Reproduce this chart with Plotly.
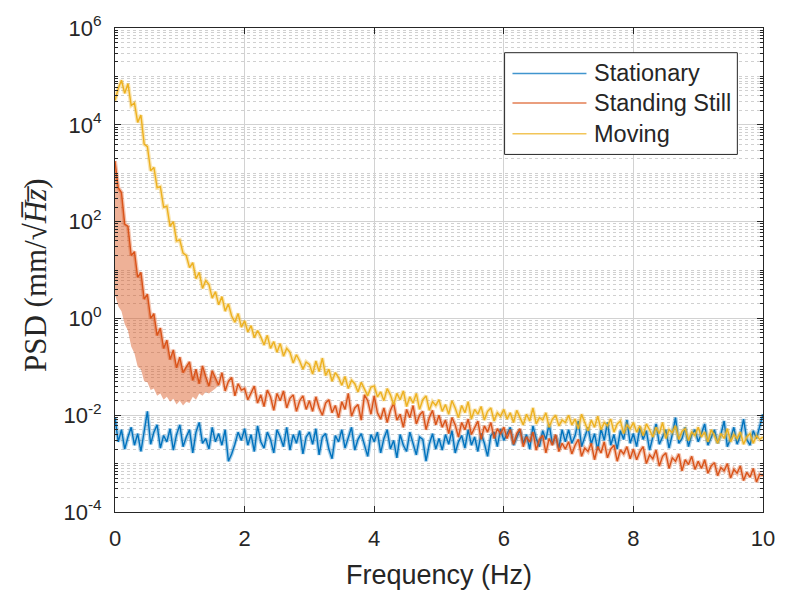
import numpy as np
import plotly.graph_objects as go

# Frequency grid (Hz)
freq_hz = np.round(np.arange(201) * 0.05, 2)

# PSD values, stored as log10(mm/sqrt(Hz))
stationary_log10 = [
    -2.05, -2.55, -2.30, -2.70, -2.45, -2.25, -2.62, -2.38, -2.75, -2.30, -1.92, -2.60, -2.35, -2.20, -2.68, -2.42, -2.55, -2.28, -2.72, -2.40,
    -2.20, -2.65, -2.45, -2.30, -2.78, -2.35, -2.15, -2.58, -2.48, -2.70, -2.25, -2.55, -2.38, -2.62, -2.30, -2.95, -2.80, -2.60, -2.35, -2.52,
    -2.28, -2.62, -2.40, -2.75, -2.22, -2.55, -2.68, -2.35, -2.50, -2.78, -2.30, -2.45, -2.65, -2.25, -2.72, -2.40, -2.58, -2.32, -2.80, -2.45,
    -2.35, -2.60, -2.28, -2.82, -2.45, -2.38, -2.70, -2.90, -2.42, -2.55, -2.30, -2.68, -2.48, -2.25, -2.72, -2.50, -2.38, -2.62, -2.85, -2.40,
    -2.55, -2.35, -2.78, -2.48, -2.30, -2.70, -2.52, -2.88, -2.40, -2.62, -2.75, -2.35, -2.58, -2.82, -2.45, -2.50, -2.95, -2.60, -2.38, -2.70,
    -2.48, -2.72, -2.40, -2.60, -2.32, -2.78, -2.55, -2.42, -2.68, -2.30, -2.62, -2.45, -2.75, -2.38, -2.58, -2.85, -2.42, -2.35, -2.65, -2.28,
    -2.52, -2.38, -2.25, -2.62, -2.45, -2.30, -2.58, -2.40, -2.70, -2.22, -2.48, -2.65, -2.32, -2.50, -2.18, -2.60, -2.42, -2.68, -2.30, -2.55,
    -2.30, -2.58, -2.42, -2.12, -2.65, -2.45, -2.25, -2.60, -2.38, -2.72, -2.28, -2.52, -2.15, -2.62, -2.40, -2.70, -2.32, -2.50, -2.10, -2.58,
    -2.38, -2.65, -2.25, -2.50, -2.32, -2.72, -2.42, -2.18, -2.60, -2.45, -2.30, -2.68, -2.40, -2.05, -2.58, -2.48, -2.25, -2.65, -2.40, -2.30,
    -2.55, -2.38, -2.18, -2.62, -2.45, -2.30, -2.58, -2.40, -2.12, -2.65, -2.48, -2.25, -2.60, -2.42, -2.08, -2.50, -2.62, -2.32, -2.48, -2.20,
    -1.98,
]

standing_log10 = [
    3.25, 2.70, 2.60, 1.95, 1.90, 1.30, 1.38, 0.85, 0.95, 0.40, 0.50, 0.00, 0.10, -0.35, -0.20, -0.62, -0.45, -0.85, -0.65, -1.02,
    -0.80, -1.12, -1.00, -0.90, -1.28, -1.05, -1.35, -0.98, -1.20, -1.40, -1.08, -1.25, -1.38, -1.12, -1.50, -1.30, -1.22, -1.60, -1.35, -1.48,
    -1.45, -1.68, -1.52, -1.40, -1.75, -1.58, -1.82, -1.48, -1.62, -1.90, -1.55, -1.70, -1.50, -1.85, -1.65, -1.58, -1.92, -1.70, -1.60, -1.88,
    -1.70, -1.92, -1.62, -1.85, -2.00, -1.75, -1.68, -1.95, -1.80, -2.05, -1.72, -1.88, -1.55, -2.02, -1.85, -1.78, -2.10, -1.58, -1.70, -1.98,
    -1.60, -1.95, -2.08, -1.85, -2.15, -1.90, -1.75, -2.10, -1.98, -2.25, -1.88, -2.05, -1.80, -2.18, -2.00, -1.92, -2.30, -2.05, -1.90, -2.20,
    -2.00, -2.25, -2.10, -2.38, -2.05, -2.20, -2.45, -2.15, -2.30, -2.08, -2.40, -2.25, -2.12, -2.50, -2.22, -2.35, -2.15, -2.48, -2.28, -2.38,
    -2.25, -2.48, -2.30, -2.60, -2.38, -2.28, -2.65, -2.45, -2.55, -2.35, -2.72, -2.50, -2.42, -2.78, -2.48, -2.62, -2.40, -2.75, -2.58, -2.70,
    -2.55, -2.80, -2.62, -2.50, -2.85, -2.68, -2.75, -2.58, -2.92, -2.65, -2.78, -2.55, -2.88, -2.70, -2.62, -2.95, -2.72, -2.80, -2.65, -2.90,
    -2.70, -2.92, -2.75, -2.65, -3.00, -2.82, -2.90, -2.72, -3.05, -2.85, -2.78, -3.10, -2.88, -2.95, -2.80, -3.15, -2.92, -3.02, -2.85, -3.12,
    -2.95, -3.10, -2.92, -3.20, -3.05, -2.98, -3.25, -3.08, -3.15, -3.00, -3.30, -3.12, -3.20, -3.05, -3.35, -3.18, -3.28, -3.10, -3.38, -3.22,
    -3.25,
]

moving_log10 = [
    4.50, 4.75, 4.92, 4.65, 4.85, 4.40, 4.45, 4.05, 4.20, 3.60, 3.55, 3.05, 3.12, 2.70, 2.72, 2.30, 2.32, 1.90, 2.00, 1.60,
    1.62, 1.35, 1.30, 1.05, 1.15, 0.82, 0.95, 0.62, 0.78, 0.70, 0.42, 0.55, 0.28, 0.45, 0.15, 0.30, 0.05, -0.08, 0.10, -0.18,
    -0.05, -0.28, -0.15, -0.40, -0.25, -0.38, -0.55, -0.35, -0.62, -0.48, -0.70, -0.52, -0.78, -0.62, -0.70, -0.92, -0.75, -0.88, -1.05, -0.90,
    -0.95, -1.15, -0.88, -1.10, -0.82, -1.18, -1.05, -1.30, -1.12, -1.22, -1.38, -1.20, -1.45, -1.28, -1.35, -1.52, -1.32, -1.48, -1.60, -1.42,
    -1.40, -1.62, -1.52, -1.70, -1.45, -1.58, -1.78, -1.55, -1.68, -1.50, -1.82, -1.62, -1.75, -1.55, -1.88, -1.68, -1.60, -1.90, -1.72, -1.80,
    -1.68, -1.92, -1.78, -1.98, -1.70, -1.85, -2.05, -1.80, -1.95, -1.72, -2.08, -1.88, -1.98, -1.82, -2.10, -1.92, -1.85, -2.12, -1.95, -2.02,
    -1.88, -2.08, -1.95, -2.15, -1.90, -2.05, -2.20, -1.98, -2.12, -1.85, -2.18, -2.05, -2.10, -1.95, -2.25, -2.08, -2.00, -2.22, -2.10, -2.15,
    -2.00, -2.20, -2.08, -2.28, -1.98, -2.15, -2.32, -2.10, -2.25, -2.02, -2.30, -2.15, -2.22, -2.08, -2.35, -2.18, -2.12, -2.38, -2.20, -2.28,
    -2.15, -2.35, -2.22, -2.42, -2.18, -2.30, -2.45, -2.25, -2.38, -2.15, -2.48, -2.30, -2.36, -2.22, -2.50, -2.33, -2.28, -2.52, -2.35, -2.42,
    -2.25, -2.45, -2.35, -2.55, -2.30, -2.42, -2.58, -2.38, -2.48, -2.28, -2.55, -2.40, -2.48, -2.35, -2.60, -2.45, -2.38, -2.58, -2.42, -2.50,
    -2.45,
]

# Lower edge of the Standing Still spread over 0-1.6 Hz (log10)
standing_lower_log10 = [
    0.50, 0.25, 0.15, -0.12, -0.25, -0.58, -0.72, -1.00, -1.05, -1.30, -1.32, -1.48, -1.45, -1.60, -1.55, -1.68,
    -1.62, -1.72, -1.66, -1.78, -1.70, -1.80, -1.72, -1.75, -1.62, -1.68, -1.55, -1.60, -1.52, -1.55, -1.50, -1.45,
    -1.38,
]

series_names = ["Stationary", "Standing Still", "Moving"]
series_colors = ["#0072BD", "#D95319", "#EDB120"]
series_log10 = [stationary_log10, standing_log10, moving_log10]

y_tick_exponents = [-4, -2, 0, 2, 4, 6]
x_tick_values = [0, 2, 4, 6, 8, 10]

W, H = 787, 592
L, R, T, B = 115, 772, 22, 512


def px_x(p):
    return (p - L) / (R - L)


def px_y(p):
    return (B - p) / (B - T)


def rgba(hex_color, a):
    h = hex_color.lstrip("#")
    return "rgba(%d,%d,%d,%.2f)" % (int(h[0:2], 16), int(h[2:4], 16), int(h[4:6], 16), a)


fig = go.Figure()

# shaded spread below the Standing Still mean at low frequency
n_low = len(standing_lower_log10)
x_low = freq_hz[:n_low]
upper = 10 ** np.array(standing_log10[:n_low])
lower = 10 ** np.array(standing_lower_log10)
fig.add_trace(go.Scatter(
    x=np.concatenate([x_low, x_low[::-1]]),
    y=np.concatenate([upper, lower[::-1]]),
    fill="toself", fillcolor=rgba(series_colors[1], 0.45),
    line=dict(width=0), mode="lines", hoverinfo="skip", showlegend=False,
))

for name, color, vals in zip(series_names, series_colors, series_log10):
    psd = 10 ** np.array(vals)
    # soft envelope around each trace
    fig.add_trace(go.Scatter(
        x=freq_hz, y=psd, mode="lines",
        line=dict(color=rgba(color, 0.35), width=4),
        hoverinfo="skip", showlegend=False,
    ))
    fig.add_trace(go.Scatter(
        x=freq_hz, y=psd, mode="lines", name=name,
        line=dict(color=color, width=1.4), showlegend=False,
    ))

# minor gridlines for the log axis
minor_vals = [k * 10.0 ** n for n in range(-4, 6) for k in range(1, 10)
              if not (k == 1 and n in y_tick_exponents)]

axis_color = "#262626"
tick_font = dict(family="Liberation Sans, Arial, sans-serif", size=22, color=axis_color)

fig.update_xaxes(
    range=[0, 10], tickvals=x_tick_values, ticktext=[str(v) for v in x_tick_values],
    showgrid=True, gridcolor="#d2d2d2", gridwidth=1,
    ticks="inside", ticklen=6, tickcolor=axis_color,
    showline=True, linecolor=axis_color, linewidth=1, mirror="ticks",
    tickfont=tick_font, zeroline=False, ticklabelstandoff=7,
)
fig.update_yaxes(
    type="log", range=[-4, 6],
    tickvals=[10.0 ** e for e in y_tick_exponents],
    ticktext=["10<sup>%d</sup>" % e for e in y_tick_exponents],
    showgrid=True, gridcolor="#d2d2d2", gridwidth=1,
    ticks="inside", ticklen=6, tickcolor=axis_color,
    showline=True, linecolor=axis_color, linewidth=1, mirror="ticks",
    tickfont=tick_font, zeroline=False, ticklabelstandoff=8,
    minor=dict(tickvals=minor_vals, ticks="inside", ticklen=3, tickcolor=axis_color,
               showgrid=True, gridcolor="#d0d0d0", griddash="dot", gridwidth=1),
)

annotations = [
    dict(text="Frequency (Hz)", x=px_x(444), y=px_y(576), xref="paper", yref="paper",
         xanchor="center", yanchor="middle", showarrow=False,
         font=dict(family="Liberation Sans, Arial, sans-serif", size=27, color=axis_color)),
    dict(text="PSD (mm/\u221a<i>H\u0305z\u0305</i>)", x=px_x(35), y=px_y(272), xref="paper", yref="paper",
         xanchor="center", yanchor="middle", textangle=-90, showarrow=False,
         font=dict(family="Liberation Serif, Times New Roman, serif", size=31, color=axis_color)),
]

# legend box
shapes = [dict(type="rect", xref="paper", yref="paper",
               x0=px_x(510), x1=px_x(746), y0=px_y(150), y1=px_y(47),
               line=dict(color=axis_color, width=1), fillcolor="white", layer="above")]
legend_rows = [68, 98, 129]
for name, color, yy in zip(series_names, series_colors, legend_rows):
    shapes.append(dict(type="line", xref="paper", yref="paper",
                       x0=px_x(518), x1=px_x(593), y0=px_y(yy), y1=px_y(yy),
                       line=dict(color=rgba(color, 0.75), width=1.5), layer="above"))
    annotations.append(dict(text=name, x=px_x(599), y=px_y(yy), xref="paper", yref="paper",
                            xanchor="left", yanchor="middle", showarrow=False,
                            font=dict(family="Liberation Sans, Arial, sans-serif", size=23.5,
                                      color=axis_color)))

fig.update_layout(
    width=W, height=H,
    margin=dict(l=L, r=W - R, t=T, b=H - B),
    plot_bgcolor="white", paper_bgcolor="white",
    showlegend=False,
    annotations=annotations, shapes=shapes,
)

fig.write_html("out.html")
